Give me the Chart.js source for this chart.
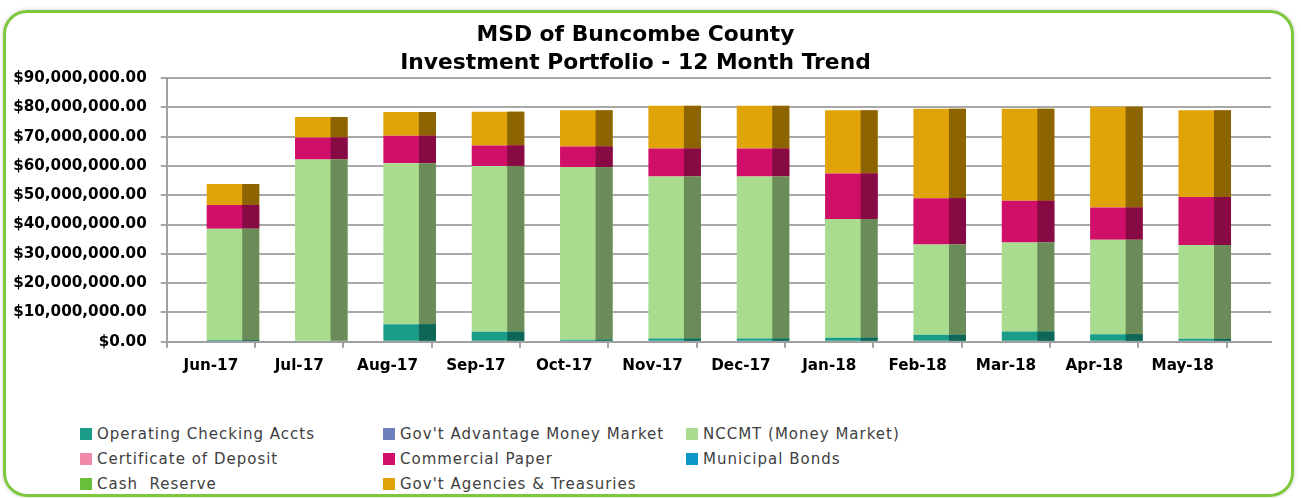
<!DOCTYPE html>
<html>
<head>
<meta charset="utf-8">
<title>MSD of Buncombe County - Investment Portfolio</title>
<script src="https://cdn.jsdelivr.net/npm/chart.js@4.4.1/dist/chart.umd.min.js"></script>
<style>
    body { margin: 0; background: #fff; font-family: "DejaVu Sans", sans-serif; }
    #frame {
        position: absolute; left: 3px; top: 10px; width: 1291px; height: 487px;
        box-sizing: border-box; border: 3px solid #7DC83E; border-radius: 24px;
        box-shadow: 0 0 4px rgba(0, 0, 0, 0.2);
    }
    #chartBox { position: absolute; left: 0; top: 0; width: 1301px; height: 390px; }
    #legend {
        position: absolute; left: 80px; top: 421px;
        display: grid; grid-template-columns: 303px 303px 303px;
    }
    .item {
        height: 25px; font-size: 15px; color: #404040; letter-spacing: 1px;
        white-space: pre; display: flex; align-items: center;
    }
    .swatch { width: 12px; height: 12px; margin-right: 5px; flex: none; }
</style>
</head>
<body>
<div id="frame"></div>
<div id="chartBox"><canvas id="portfolioChart"></canvas></div>
<div id="legend"></div>

<script>
// Months on the x axis
const months = ['Jun-17', 'Jul-17', 'Aug-17', 'Sep-17', 'Oct-17', 'Nov-17',
    'Dec-17', 'Jan-18', 'Feb-18', 'Mar-18', 'Apr-18', 'May-18'];

// Balances per month (dollars)
const operatingChecking = [600000, 0, 6000000, 3400000, 700000, 1100000,
    1100000, 1400000, 2400000, 3500000, 2600000, 1000000];
const govAdvantage = [0, 0, 0, 0, 0, 0, 0, 0, 0, 0, 0, 0];
const nccmt = [38000000, 62200000, 54900000, 56600000, 58900000, 55300000,
    55300000, 40500000, 30800000, 30400000, 32200000, 32000000];
const certDeposit = [0, 0, 0, 0, 0, 0, 0, 0, 0, 0, 0, 0];
const commercialPaper = [8100000, 7500000, 9400000, 7000000, 7000000, 9500000,
    9500000, 15500000, 15800000, 14200000, 11000000, 16400000];
const municipalBonds = [0, 0, 0, 0, 0, 0, 0, 0, 0, 0, 0, 0];
const cashReserve = [0, 0, 0, 0, 0, 0, 0, 0, 0, 0, 0, 0];
const govAgencies = [7100000, 7000000, 8100000, 11500000, 12400000, 14600000,
    14600000, 21600000, 30500000, 31400000, 34400000, 29600000];

// Y axis tick values
const yTickValues = [0, 10000000, 20000000, 30000000, 40000000, 50000000,
    60000000, 70000000, 80000000, 90000000];

// Darker right face of each column (the original is a 3D column chart)
const sideShade = {
    id: 'sideShade',
    afterDatasetDraw(chart, args) {
        const ds = chart.data.datasets[args.index];
        if (!ds.sideColor) return;
        const ctx = chart.ctx;
        ctx.save();
        ctx.fillStyle = ds.sideColor;
        args.meta.data.forEach(bar => {
            const { x, y, base, width } = bar.getProps(['x', 'y', 'base', 'width'], true);
            const h = Math.abs(base - y);
            if (h < 0.5) return;
            const side = width * 0.324;
            ctx.fillRect(x + width / 2 - side, Math.min(y, base), side, h);
        });
        ctx.restore();
    }
};

const money = v => '$' + v.toLocaleString('en-US', { minimumFractionDigits: 2, maximumFractionDigits: 2 });

const series = (label, data, color, sideColor) => ({
    label, data, backgroundColor: color, sideColor, stack: 'portfolio'
});

const datasets = [
    // empty spacer stack: pushes the real columns to the right half of each month
    { label: '', data: months.map(() => null), stack: 'spacer', backgroundColor: 'rgba(0,0,0,0)' },
    series('Operating Checking Accts', operatingChecking, '#1A9C88', '#0E6657'),
    series("Gov't Advantage Money Market", govAdvantage, '#6C80BC', '#3E4C70'),
    series('NCCMT (Money Market)', nccmt, '#A9DC8E', '#6B8C58'),
    series('Certificate of Deposit', certDeposit, '#F088A8', '#905064'),
    series('Commercial Paper', commercialPaper, '#D01068', '#880A44'),
    series('Municipal Bonds', municipalBonds, '#0B98C8', '#065A78'),
    series('Cash  Reserve', cashReserve, '#6ABF3A', '#3F7222'),
    series("Gov't Agencies & Treasuries", govAgencies, '#E0A308', '#8C6402')
];

const tickFont = { family: '"DejaVu Sans", sans-serif', size: 15.2, weight: 'bold' };

const chart = new Chart(document.getElementById('portfolioChart'), {
    type: 'bar',
    data: { labels: months, datasets },
    plugins: [sideShade],
    options: {
        responsive: true,
        maintainAspectRatio: false,
        animation: false,
        layout: { padding: { left: 0, right: 30, top: 0, bottom: 6 } },
        datasets: {
            bar: { categoryPercentage: 1, barPercentage: 1.19, borderWidth: 0 }
        },
        plugins: {
            legend: { display: false },
            tooltip: {
                filter: item => item.dataset.stack === 'portfolio',
                callbacks: { label: item => item.dataset.label + ': ' + money(item.raw) }
            },
            title: {
                display: true,
                text: ['MSD of Buncombe County', 'Investment Portfolio - 12 Month Trend'],
                color: '#000',
                font: { family: '"DejaVu Sans", sans-serif', size: 21.8, weight: 'bold', lineHeight: 1.284 },
                padding: { top: 21, bottom: 1 }
            }
        },
        scales: {
            x: {
                stacked: true,
                // the plot runs on past the last month, as the 3D back wall does in the original
                afterBuildTicks: scale => { scale._valueRange = months.length + 0.5; },
                grid: { drawOnChartArea: false, drawTicks: true, tickLength: 6, color: '#A0A0A0', lineWidth: 2 },
                border: { color: '#A0A0A0', width: 2 },
                ticks: { color: '#000', font: tickFont, padding: 9, maxRotation: 0 }
            },
            y: {
                stacked: true,
                min: 0,
                max: 90000000,
                afterBuildTicks: scale => { scale.ticks = yTickValues.map(value => ({ value })); },
                afterFit: scale => { scale.width = 166.7; },
                grid: { color: '#A8A8A8', lineWidth: 2, tickLength: 6 },
                border: { color: '#A0A0A0', width: 2 },
                ticks: { color: '#000', font: tickFont, padding: 14, callback: v => money(v) }
            }
        }
    }
});

// HTML legend, three columns like the original
const legendBox = document.getElementById('legend');
chart.data.datasets.filter(ds => ds.stack === 'portfolio').forEach(ds => {
    const item = document.createElement('div');
    item.className = 'item';
    const swatch = document.createElement('span');
    swatch.className = 'swatch';
    swatch.style.background = ds.backgroundColor;
    item.appendChild(swatch);
    item.appendChild(document.createTextNode(ds.label));
    legendBox.appendChild(item);
});
</script>
</body>
</html>
